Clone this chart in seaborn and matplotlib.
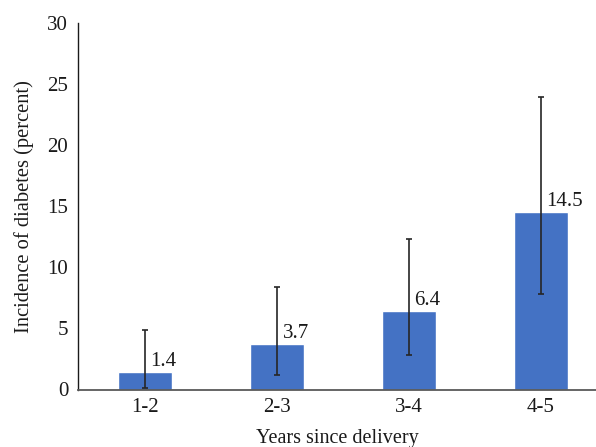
import matplotlib
matplotlib.use("Agg")
import matplotlib.pyplot as plt
import seaborn as sns
import pandas as pd
import numpy as np

categories = ["1-2", "2-3", "3-4", "4-5"]
incidence = [1.4, 3.7, 6.4, 14.5]
ci_low = [0.1, 1.2, 2.8, 7.8]
ci_high = [4.9, 8.4, 12.3, 23.9]
value_labels = ["1.4", "3.7", "6.4", "14.5"]

sns.set_theme(style="white")
plt.rcParams["font.family"] = ["Liberation Serif", "DejaVu Serif"]

df = pd.DataFrame({"cat": categories, "val": incidence})

fig = plt.figure(figsize=(5.96, 4.47), dpi=100)
ax = fig.add_axes([78/596, 1 - 389.5/447, 1 - 78/596, (389.5 - 22.7)/447])

sns.barplot(data=df, x="cat", y="val", color="#4472C4", width=0.41,
            saturation=1, ax=ax, errorbar=None)

x = np.arange(len(categories))
vals = np.array(incidence)
yerr = np.vstack([vals - np.array(ci_low), np.array(ci_high) - vals])
ax.errorbar(x, vals, yerr=yerr, fmt="none", ecolor="#262626",
            elinewidth=1.2, capsize=2, capthick=1.2)

fs = 15
for xi, v, lab in zip(x, incidence, value_labels):
    ax.annotate(lab, (xi, v), xytext=(4, 4.5), textcoords="offset points",
                ha="left", va="baseline", fontsize=fs, color="#1a1a1a")

ax.set_xlim(-0.508, 3.417)
ax.set_ylim(0, 30)
ax.set_yticks([0, 5, 10, 15, 20, 25, 30])
ax.tick_params(axis="both", length=0, labelsize=fs, colors="#1a1a1a")
ax.tick_params(axis="y", pad=7)
ax.tick_params(axis="x", pad=6)

for s in ["top", "right"]:
    ax.spines[s].set_visible(False)
ax.spines["left"].set_color("#1a1a1a")
ax.spines["left"].set_linewidth(1.0)
ax.spines["bottom"].set_color("#595959")
ax.spines["bottom"].set_linewidth(1.3)

ax.set_xlabel("Years since delivery", fontsize=14.5, color="#1a1a1a", labelpad=9)
ax.set_ylabel("Incidence of diabetes (percent)", fontsize=14.8, color="#1a1a1a", labelpad=10)

fig.savefig("out.png", dpi=100)
